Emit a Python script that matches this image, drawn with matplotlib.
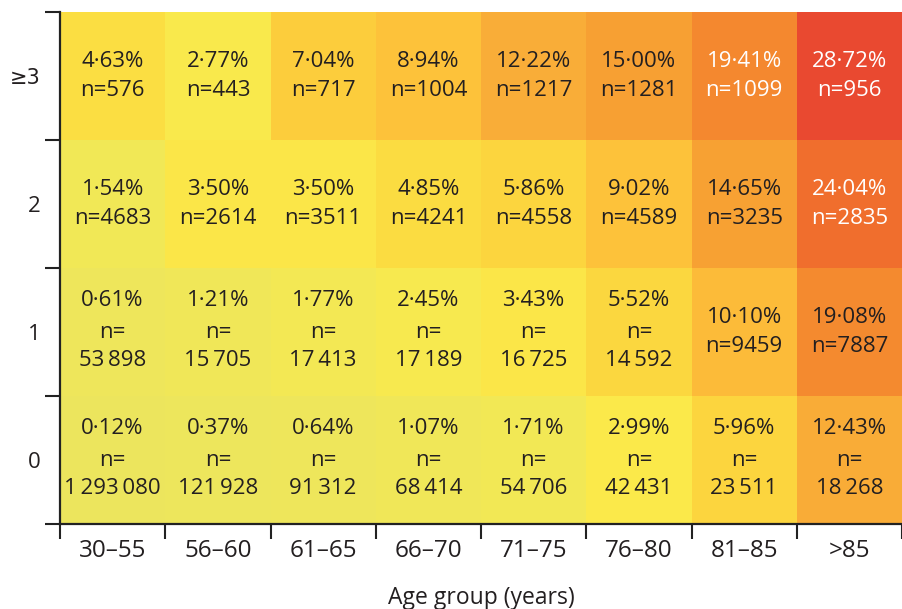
import matplotlib
matplotlib.use("Agg")
import matplotlib.pyplot as plt
import numpy as np
from matplotlib.colors import LinearSegmentedColormap, Normalize

plt.rcParams['font.family'] = ['Open Sans', 'DejaVu Sans']

age_groups = ["30–55", "56–60", "61–65", "66–70", "71–75", "76–80", "81–85", ">85"]
row_labels = ["0", "1", "2", "≥3"]  # bottom to top

pct_0 = [0.12, 0.37, 0.64, 1.07, 1.71, 2.99, 5.96, 12.43]
n_0 = [1293080, 121928, 91312, 68414, 54706, 42431, 23511, 18268]
pct_1 = [0.61, 1.21, 1.77, 2.45, 3.43, 5.52, 10.10, 19.08]
n_1 = [53898, 15705, 17413, 17189, 16725, 14592, 9459, 7887]
pct_2 = [1.54, 3.50, 3.50, 4.85, 5.86, 9.02, 14.65, 24.04]
n_2 = [4683, 2614, 3511, 4241, 4558, 4589, 3235, 2835]
pct_3 = [4.63, 2.77, 7.04, 8.94, 12.22, 15.00, 19.41, 28.72]
n_3 = [576, 443, 717, 1004, 1217, 1281, 1099, 956]

pcts = np.array([pct_0, pct_1, pct_2, pct_3])
ns = np.array([n_0, n_1, n_2, n_3])

# colour scale
vmax = 30.0
stops = [(0, "#ece55e"), (1.5, "#f1e856"), (3.0, "#fbe94a"), (5.0, "#fbdb40"),
         (6.5, "#fcd03c"), (9.0, "#fdc23a"), (12.0, "#f9ae38"), (15.0, "#f7a033"),
         (19.5, "#f4882f"), (24.0, "#f06f2d"), (28.7, "#e94a30"), (30.0, "#e84430")]
cmap = LinearSegmentedColormap.from_list("risk", [(v / vmax, c) for v, c in stops])
norm = Normalize(0, vmax)

fig = plt.figure(figsize=(9.02, 6.09), dpi=100)
ax = fig.add_axes([60 / 902, 1 - 524 / 609, 842 / 902, 512 / 609])

ax.pcolormesh(np.arange(9), np.arange(5), pcts, cmap=cmap, norm=norm, shading="flat")

def fmt_n(v):
    if v >= 10000:
        return f"{v:,}".replace(",", "\u2009")
    return str(v)

dark = "#231f20"
for r in range(4):
    for c in range(8):
        p = pcts[r, c]
        n = int(ns[r, c])
        col = "white" if p > 19.2 else dark
        ptxt = f"{p:.2f}%".replace(".", "·")
        cx, cy = c + 0.5, r + 0.5
        kw = dict(ha="center", va="center", fontsize=16, color=col)
        if n >= 10000:
            ax.text(cx, cy + 0.25, ptxt, **kw)
            ax.text(cx, cy, "n=", **kw)
            ax.text(cx, cy - 0.22, fmt_n(n), **kw)
        else:
            ax.text(cx, cy + 0.117, ptxt, **kw)
            ax.text(cx, cy - 0.117, "n=" + fmt_n(n), **kw)

ax.set_xlim(0, 8)
ax.set_ylim(0, 4)
for s in ["top", "right"]:
    ax.spines[s].set_visible(False)
for s in ["left", "bottom"]:
    ax.spines[s].set_linewidth(1.6)
    ax.spines[s].set_color("#222222")

ax.set_xticks(np.arange(9))
ax.set_yticks(np.arange(5))
ax.set_xticklabels([])
ax.set_yticklabels([])
ax.set_xticks(np.arange(8) + 0.5, minor=True)
ax.set_yticks(np.arange(4) + 0.5, minor=True)
ax.set_xticklabels(age_groups, minor=True, fontsize=17.5, color=dark)
ylabs = ax.set_yticklabels(row_labels, minor=True, fontsize=16, color=dark)
for t in ylabs:
    if "≥" in t.get_text():
        t.set_fontfamily(["DejaVu Sans"])
        t.set_fontsize(15)
ax.tick_params(which="major", length=10.8, width=1.5, color="#222222", direction="out")
ax.tick_params(axis="x", which="minor", length=0, pad=11)
ax.tick_params(axis="y", which="minor", length=0, pad=14)

fig.text(481 / 902, 1 - 598 / 609, "Age group (years)", ha="center", va="center",
         fontsize=16.5, color=dark)

fig.savefig("out.png", dpi=100)
